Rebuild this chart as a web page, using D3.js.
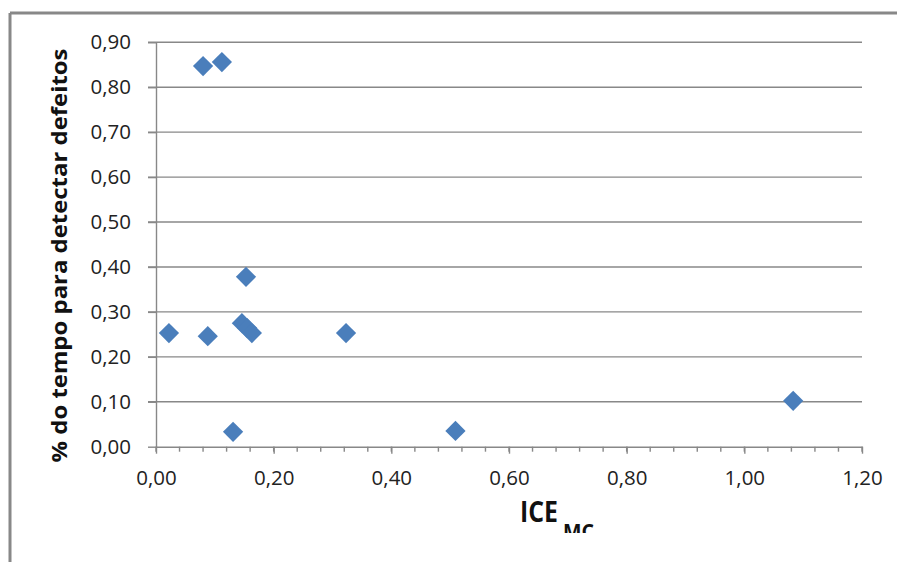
<!DOCTYPE html>
<html>
<head>
<meta charset="utf-8">
<script src="https://cdn.jsdelivr.net/npm/d3@7"></script>
<style>
  body { margin: 0; background: #fff; }
  svg { display: block; }
</style>
</head>
<body>
<div id="chart"></div>
<script>
// Data
const iceValues   = [0.022, 0.080, 0.112, 0.088, 0.131, 0.153, 0.146, 0.155, 0.163, 0.323, 0.509, 1.083];
const tempoValues = [0.253, 0.847, 0.856, 0.246, 0.033, 0.378, 0.275, 0.264, 0.253, 0.253, 0.035, 0.102];
const xTicks = [0, 0.2, 0.4, 0.6, 0.8, 1.0, 1.2];
const yTicks = [0, 0.1, 0.2, 0.3, 0.4, 0.5, 0.6, 0.7, 0.8, 0.9];

const width = 897, height = 562;
const plot = { left: 156, right: 862, top: 42.3, bottom: 446.7 };
const gridColor = "#888";
const markerColor = "#4A7EBB";
const fmt = v => d3.format(".2f")(v).replace(".", ",");

const svg = d3.select("#chart").append("svg")
  .attr("width", width)
  .attr("height", height);

// outer chart border (top and left only are visible)
svg.append("line")
  .attr("x1", 10).attr("x2", width).attr("y1", 13).attr("y2", 13)
  .style("stroke", gridColor).style("stroke-width", 3);
svg.append("line")
  .attr("x1", 10).attr("x2", 10).attr("y1", 13).attr("y2", height)
  .style("stroke", gridColor).style("stroke-width", 3);

const x = d3.scaleLinear().domain([0, 1.2]).range([plot.left, plot.right]);
const y = d3.scaleLinear().domain([0, 0.9]).range([plot.bottom, plot.top]);

// horizontal gridlines
svg.append("g")
  .selectAll("line")
  .data(yTicks.slice(1))
  .join("line")
  .attr("x1", plot.left - 8).attr("x2", plot.right)
  .attr("y1", d => y(d)).attr("y2", d => y(d))
  .style("stroke", gridColor).style("stroke-width", 1.4);

// y axis
const yAxis = svg.append("g")
  .attr("transform", `translate(${plot.left},0)`)
  .call(d3.axisLeft(y).tickValues(yTicks).tickFormat(fmt).tickSize(8).tickSizeOuter(0).tickPadding(17));
yAxis.select(".domain").style("stroke", gridColor).style("stroke-width", 1.4);
yAxis.selectAll(".tick line").style("stroke", gridColor).style("stroke-width", 1.4);
yAxis.selectAll("text")
  .style("font-family", "'Open Sans', sans-serif")
  .style("font-size", "20.5px")
  .style("fill", "#222");

// x axis: minor ticks every 0.04, labels on 0.2
const minorTicks = d3.range(0, 1.2001, 0.04);
svg.append("g")
  .selectAll("line")
  .data(minorTicks)
  .join("line")
  .attr("x1", d => x(d)).attr("x2", d => x(d))
  .attr("y1", plot.bottom).attr("y2", plot.bottom + 5)
  .style("stroke", gridColor).style("stroke-width", 1.4);

const xAxis = svg.append("g")
  .attr("transform", `translate(0,${plot.bottom})`)
  .call(d3.axisBottom(x).tickValues(xTicks).tickFormat(fmt).tickSize(7).tickSizeOuter(0).tickPadding(17));
xAxis.select(".domain").style("stroke", gridColor).style("stroke-width", 1.6);
xAxis.selectAll(".tick line").style("stroke", gridColor).style("stroke-width", 1.4);
xAxis.selectAll("text")
  .style("font-family", "'Open Sans', sans-serif")
  .style("font-size", "20.5px")
  .style("fill", "#222");

// markers
const diamond = d3.symbol().type(d3.symbolSquare).size(205);
svg.append("g")
  .selectAll("path")
  .data(iceValues.map((v, i) => [v, tempoValues[i]]))
  .join("path")
  .attr("d", diamond)
  .attr("transform", d => `translate(${x(d[0])},${y(d[1])}) rotate(45)`)
  .style("fill", markerColor);

// y axis title
svg.append("text")
  .attr("transform", `translate(67,255.5) rotate(-90)`)
  .attr("text-anchor", "middle")
  .attr("textLength", 414)
  .attr("lengthAdjust", "spacingAndGlyphs")
  .style("font-family", "'Open Sans', sans-serif")
  .style("font-weight", "bold")
  .style("font-size", "22px")
  .style("fill", "#111")
  .text("% do tempo para detectar defeitos");

// x axis title, subscript clipped at the bottom like the original
svg.append("clipPath").attr("id", "cut")
  .append("rect").attr("x", 0).attr("y", 0).attr("width", width).attr("height", 533);

const xt = svg.append("text")
  .attr("clip-path", "url(#cut)")
  .attr("x", 520).attr("y", 521.5)
  .style("font-family", "'Open Sans', sans-serif")
  .style("font-weight", "bold")
  .style("fill", "#111");
xt.append("tspan")
  .style("font-size", "29px")
  .attr("textLength", 38)
  .attr("lengthAdjust", "spacingAndGlyphs")
  .text("ICE");
xt.append("tspan")
  .attr("x", 563).attr("y", 539)
  .style("font-size", "21px")
  .attr("textLength", 31)
  .attr("lengthAdjust", "spacingAndGlyphs")
  .text("MC");
</script>
</body>
</html>
